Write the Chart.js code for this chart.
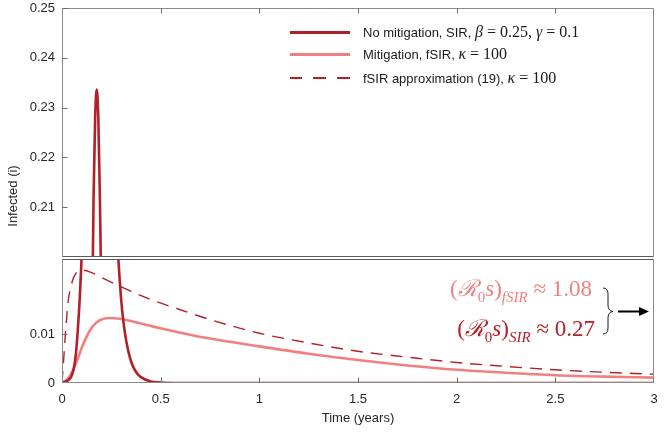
<!DOCTYPE html>
<html><head><meta charset="utf-8">
<script src="https://cdn.jsdelivr.net/npm/chart.js@4.4.1/dist/chart.umd.min.js"></script>
<style>
html,body{margin:0;padding:0;background:#fff;}
#wrap{position:relative;width:664px;height:435px;overflow:hidden;background:#fff;}
canvas{position:absolute;left:0;top:0;}
.row{position:absolute;left:290px;height:20px;display:flex;align-items:center;font-family:"Liberation Sans",Arial,sans-serif;font-size:13px;color:#1a1a1a;white-space:nowrap;}
.sw{width:60px;height:0;margin-right:13px;}
.m{font-family:"Liberation Serif","Times New Roman",serif;font-size:16px;}
.ann{position:absolute;font-family:"Liberation Serif","DejaVu Serif",serif;font-size:23px;line-height:23px;white-space:nowrap;text-align:right;}
.ann sub{font-size:15px;line-height:0;vertical-align:-6px;}
#ytitle{position:absolute;left:-37px;top:188px;width:100px;height:16px;line-height:16px;text-align:center;transform:rotate(-90deg);font-family:"Liberation Sans",Arial,sans-serif;font-size:13px;color:#262626;white-space:nowrap;}
</style></head>
<body><div id="wrap">
<canvas id="cTop" width="664" height="435"></canvas>
<canvas id="cBot" width="664" height="435"></canvas>
<div id="ytitle">Infected (i)</div>
<div class="row" style="top:22px"><div class="sw" style="border-top:3px solid #b2202a"></div><span>No mitigation, SIR,&nbsp;</span><span class="m"><i>β</i> = 0.25, <i>γ</i> = 0.1</span></div>
<div class="row" style="top:44px"><div class="sw" style="border-top:3px solid #f08080"></div><span>Mitigation, fSIR,&nbsp;</span><span class="m"><i>κ</i> = 100</span></div>
<div class="row" style="top:68px"><div class="sw" style="border-top:2px dashed #b2202a;border-image:repeating-linear-gradient(90deg,#b2202a 0 13px,transparent 13px 23px) 1"></div><span>fSIR approximation (19),&nbsp;</span><span class="m"><i>κ</i> = 100</span></div>
<div class="ann" style="right:72px;top:277px;color:#f08080">(<i>ℛ</i><sub>0</sub><i>s</i>)<sub><i>fSIR</i></sub> ≈ 1.08</div>
<div class="ann" style="right:69px;top:317px;color:#b2202a">(<i>ℛ</i><sub>0</sub><i>s</i>)<sub><i>SIR</i></sub> ≈ 0.27</div>
<svg style="position:absolute;left:0;top:0" width="664" height="435">
<path d="M603,288 Q608,288 608,294 L608,305 Q608,311 613,311.5 Q608,312 608,318 L608,328 Q608,334 603,334" fill="none" stroke="#1a1a1a" stroke-width="1"/>
<line x1="618" y1="311.5" x2="641" y2="311.5" stroke="#000" stroke-width="2"/>
<path d="M639,307 L649,311.5 L639,316 Z" fill="#000"/>
</svg>
</div>
<script>
// ---- data ----
const tSIR = [0, 0.02, 0.04, 0.05, 0.06, 0.07, 0.08, 0.09, 0.10, 0.11, 0.12, 0.13, 0.14, 0.15, 0.16, 0.168, 0.176, 0.184, 0.192, 0.20, 0.21, 0.22, 0.23, 0.24, 0.25, 0.26, 0.27, 0.285, 0.30, 0.31, 0.32, 0.33, 0.345, 0.36, 0.38, 0.40, 0.45, 0.50, 0.60, 0.80, 1.0, 1.5, 2.0, 2.5, 3.0];
const iSIR = [0.0001, 0.0003, 0.0009, 0.0016, 0.0030, 0.0058, 0.0108, 0.0175, 0.0265, 0.040, 0.060, 0.088, 0.126, 0.178, 0.212, 0.228, 0.2336, 0.228, 0.212, 0.190, 0.160, 0.132, 0.108, 0.087, 0.069, 0.054, 0.042, 0.026, 0.0170, 0.0130, 0.0100, 0.0077, 0.0051, 0.0034, 0.0020, 0.0012, 0.0003, 0.0001, 0, 0, 0, 0, 0, 0, 0];
const tFSIR = [0, 0.02, 0.04, 0.06, 0.08, 0.10, 0.125, 0.15, 0.175, 0.20, 0.24, 0.30, 0.40, 0.50, 0.60, 0.75, 1.0, 1.25, 1.5, 1.75, 2.0, 2.25, 2.5, 2.75, 3.0];
const iFSIR = [0, 0.0005, 0.0014, 0.0030, 0.0050, 0.0072, 0.0095, 0.0113, 0.0124, 0.0130, 0.0133, 0.0131, 0.0122, 0.0112, 0.0103, 0.0091, 0.0075, 0.0060, 0.0047, 0.0036, 0.0027, 0.0021, 0.0016, 0.0013, 0.0011];
const tApprox = [0, 0.008, 0.015, 0.025, 0.032, 0.045, 0.057, 0.07, 0.083, 0.108, 0.15, 0.2, 0.3, 0.45, 0.6, 0.75, 1.0, 1.25, 1.5, 1.75, 2.0, 2.25, 2.5, 2.75, 3.0];
const iApprox = [0, 0.0045, 0.0088, 0.0140, 0.0170, 0.0197, 0.0214, 0.0224, 0.0229, 0.0231, 0.0226, 0.0216, 0.0197, 0.0171, 0.0150, 0.0130, 0.0102, 0.0082, 0.0065, 0.0053, 0.0042, 0.0034, 0.0027, 0.0022, 0.0018];
const xTicks = [0, 0.5, 1, 1.5, 2, 2.5, 3];
const topTicks = [0.21, 0.22, 0.23, 0.24, 0.25];
const bottomTicks = [0, 0.01];
const seriesLabels = ['No mitigation, SIR', 'Mitigation, fSIR', 'fSIR approximation (19)'];

const DARK = '#b2202a', PINK = '#f08080';
const pts = (t, v) => t.map((x, k) => ({x, y: v[k]}));

function makeDatasets() {
  return [
    {label: seriesLabels[0], data: pts(tSIR, iSIR), borderColor: DARK, borderWidth: 2.6, pointRadius: 0, cubicInterpolationMode: 'monotone', clip: 0},
    {label: seriesLabels[1], data: pts(tFSIR, iFSIR), borderColor: PINK, borderWidth: 2.6, pointRadius: 0, cubicInterpolationMode: 'monotone', clip: 0},
    {label: seriesLabels[2], data: pts(tApprox, iApprox), borderColor: DARK, borderWidth: 1.4, borderDash: [12, 8], pointRadius: 0, cubicInterpolationMode: 'monotone', clip: 0}
  ];
}

const boxPlugin = {
  id: 'boxTicks',
  afterDraw(chart, args, o) {
    const {ctx, chartArea: a, scales} = chart;
    ctx.save();
    ctx.lineWidth = 1;
    const L = Math.round(a.left) + 0.5, R = Math.round(a.right) - 0.5, T = Math.round(a.top) + 0.5, B = Math.round(a.bottom) - 0.5;
    ctx.strokeStyle = '#8a8a8a';
    ctx.beginPath();
    ctx.moveTo(L, T); ctx.lineTo(L, B);
    ctx.moveTo(R, T); ctx.lineTo(R, B);
    ctx.stroke();
    ctx.strokeStyle = o.topColor; ctx.beginPath(); ctx.moveTo(L, T); ctx.lineTo(R, T); ctx.stroke();
    ctx.strokeStyle = o.bottomColor; ctx.beginPath(); ctx.moveTo(L, B); ctx.lineTo(R, B); ctx.stroke();
    ctx.strokeStyle = '#6a6a6a';
    ctx.beginPath();
    o.yTicks.forEach(v => { const y = Math.round(scales.y.getPixelForValue(v)) + 0.5; ctx.moveTo(L, y); ctx.lineTo(L + 5, y); });
    xTicks.slice(1, -1).forEach(v => {
      const x = Math.round(scales.x.getPixelForValue(v)) + 0.5;
      if (o.xSide === 'top') { ctx.moveTo(x, T); ctx.lineTo(x, T + 5); }
      else { ctx.moveTo(x, B); ctx.lineTo(x, B - 5); }
    });
    ctx.stroke();
    ctx.restore();
  }
};

const tickFont = {family: '"Liberation Sans", Arial, sans-serif', size: 13};
const TXT = '#262626';
const noPadY = s => { s.width = 62; s.paddingTop = 0; s.paddingBottom = 0; };

new Chart(document.getElementById('cTop'), {
  type: 'line',
  data: {datasets: makeDatasets()},
  plugins: [boxPlugin],
  options: {
    responsive: false, animation: false, devicePixelRatio: 1,
    layout: {padding: {left: 0, right: 10, top: 8, bottom: 178}},
    plugins: {legend: {display: false}, tooltip: {enabled: false},
      boxTicks: {yTicks: topTicks, xSide: 'top', topColor: '#8a8a8a', bottomColor: '#5a5a5a'}},
    scales: {
      x: {type: 'linear', min: 0, max: 3, display: false},
      y: {type: 'linear', min: 0.2, max: 0.25,
        afterBuildTicks: s => { s.ticks = topTicks.map(v => ({value: v})); },
        afterFit: noPadY,
        grid: {display: false, drawTicks: false}, border: {display: false},
        ticks: {padding: 7, color: TXT, font: tickFont, callback: v => String(v)}}
    }
  }
});

new Chart(document.getElementById('cBot'), {
  type: 'line',
  data: {datasets: makeDatasets()},
  plugins: [boxPlugin],
  options: {
    responsive: false, animation: false, devicePixelRatio: 1,
    layout: {padding: {left: 0, right: 10, top: 259, bottom: 0}},
    plugins: {legend: {display: false}, tooltip: {enabled: false},
      boxTicks: {yTicks: [0.01], xSide: 'bottom', topColor: '#5a5a5a', bottomColor: '#8a8a8a'}},
    scales: {
      x: {type: 'linear', min: 0, max: 3,
        afterBuildTicks: s => { s.ticks = xTicks.map(v => ({value: v})); },
        afterFit: s => { s.height = 52; s.paddingLeft = 0; s.paddingRight = 0; },
        grid: {display: false, drawTicks: false}, border: {display: false},
        ticks: {padding: 9, color: TXT, font: tickFont, maxRotation: 0, callback: v => String(v)},
        title: {display: true, text: 'Time (years)', color: TXT, font: tickFont, padding: {top: 3, bottom: 9}}},
      y: {type: 'linear', min: 0, max: 0.0254,
        afterBuildTicks: s => { s.ticks = bottomTicks.map(v => ({value: v})); },
        afterFit: noPadY,
        grid: {display: false, drawTicks: false}, border: {display: false},
        ticks: {padding: 7, color: TXT, font: tickFont, callback: v => String(v)}}
    }
  }
});
</script>
</body></html>
